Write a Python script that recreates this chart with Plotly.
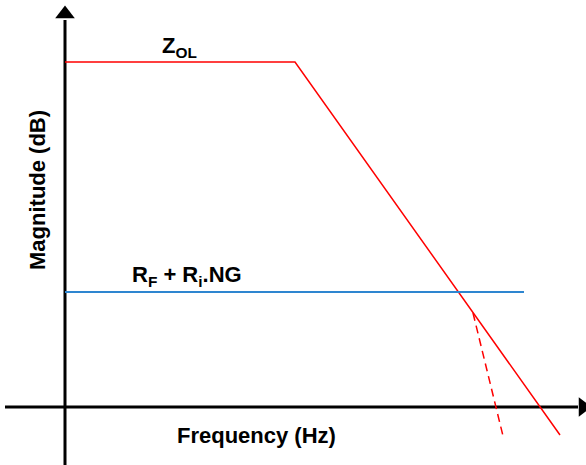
import plotly.graph_objects as go

# diagram coordinates (pixel-like units, y grows downward)
zol_x = [65, 295, 560]
zol_y = [62, 62, 435]
noise_gain_x = [65, 524]
noise_gain_y = [292, 292]
rolloff_x = [473, 503]
rolloff_y = [313, 436]
vaxis_x = [65, 65]
vaxis_y = [465, 20]
haxis_x = [5, 578]
haxis_y = [407, 407]

font = "Liberation Sans, Arial, sans-serif"

fig = go.Figure()
fig.add_trace(go.Scatter(x=vaxis_x, y=vaxis_y, mode="lines",
                         line=dict(color="black", width=3)))
fig.add_trace(go.Scatter(x=haxis_x, y=haxis_y, mode="lines",
                         line=dict(color="black", width=3)))
fig.add_trace(go.Scatter(x=[65], y=[14], mode="markers",
                         marker=dict(symbol="triangle-up", size=17, color="black")))
fig.add_trace(go.Scatter(x=[583], y=[407], mode="markers",
                         marker=dict(symbol="triangle-right", size=17, color="black")))
fig.add_trace(go.Scatter(x=zol_x, y=zol_y, mode="lines",
                         line=dict(color="#ff0000", width=1.5)))
fig.add_trace(go.Scatter(x=noise_gain_x, y=noise_gain_y, mode="lines",
                         line=dict(color="#2e86d0", width=1.8)))
fig.add_trace(go.Scatter(x=rolloff_x, y=rolloff_y, mode="lines",
                         line=dict(color="#ff0000", width=1.5, dash="8px,5px")))

labels = [
    (179, 47, "Z<sub>OL</sub>"),
    (187, 276, "R<sub>F</sub> + R<sub>i</sub>.NG"),
    (256, 435, "Frequency (Hz)"),
]
for x, y, t in labels:
    fig.add_annotation(x=x, y=y, text="<b>" + t + "</b>", showarrow=False,
                       font=dict(family=font, size=22, color="black"))
fig.add_annotation(x=37, y=190, text="<b>Magnitude (dB)</b>", showarrow=False,
                   textangle=-90, font=dict(family=font, size=22, color="black"))

fig.update_layout(
    width=586, height=465,
    margin=dict(l=0, r=0, t=0, b=0),
    paper_bgcolor="white", plot_bgcolor="white",
    showlegend=False,
    xaxis=dict(range=[0, 586], visible=False, fixedrange=True),
    yaxis=dict(range=[465, 0], visible=False, fixedrange=True),
)

fig.write_html(
    "out.html",
    config={"displayModeBar": False},
    post_script="document.body.style.margin='0px';document.body.style.overflow='hidden';",
)
